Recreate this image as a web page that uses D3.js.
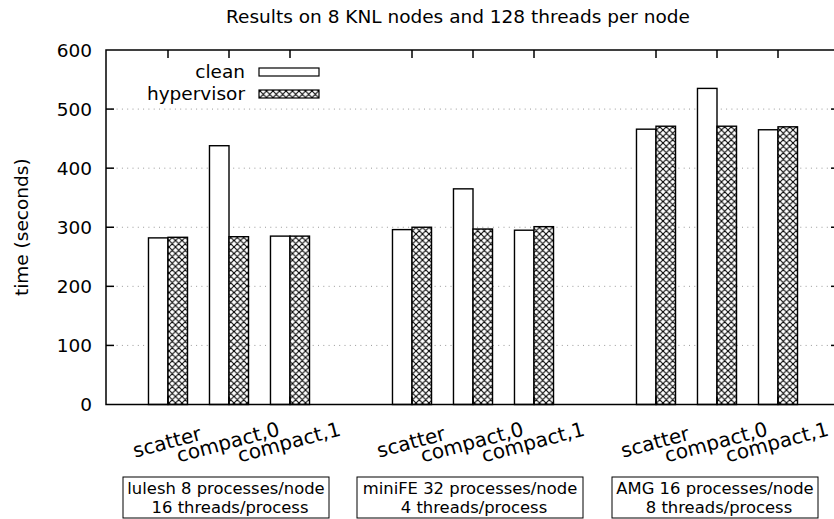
<!DOCTYPE html>
<html><head><meta charset="utf-8">
<script src="https://cdn.jsdelivr.net/npm/d3@7"></script>
<style>body{margin:0;background:#fff}svg{display:block}text{font-family:"DejaVu Sans",sans-serif;fill:#000}</style>
</head><body><div id="c"></div>
<script>
const title = "Results on 8 KNL nodes and 128 threads per node";
const yLabel = "time (seconds)";
const configs = ["scatter", "compact,0", "compact,1"];
const groups = ["lulesh", "miniFE", "AMG"];
const groupLine1 = ["lulesh 8 processes/node", "miniFE 32 processes/node", "AMG 16 processes/node"];
const groupLine2 = ["16 threads/process", "4 threads/process", "8 threads/process"];
const seriesNames = ["clean", "hypervisor"];
const clean = [[282, 438, 285], [296, 365, 295], [466, 535, 465]];
const hypervisor = [[283, 284, 285], [300, 297, 301], [471, 471, 470]];
const yTicks = [0, 100, 200, 300, 400, 500, 600];

(function () {
const W = 834, H = 519;
const svg = d3.select("#c").append("svg").attr("width", W).attr("height", H);
const defs = svg.append("defs");
const pat = defs.append("pattern").attr("id", "xhatch").attr("patternUnits", "userSpaceOnUse")
  .attr("width", 6.5).attr("height", 6.5);
pat.append("rect").attr("width", 6.5).attr("height", 6.5).attr("fill", "#fff");
pat.append("path").attr("d", "M0,0L6.5,6.5M0,6.5L6.5,0M-1,1L1,-1M5.5,7.5L7.5,5.5")
  .attr("stroke", "#000").attr("stroke-width", 1.1).attr("fill", "none");

const pLeft = 106, pTop = 50, pBottom = 404.5;
const x = d3.scaleLinear().domain([-1, 11]).range([107, 839]);
const y = d3.scaleLinear().domain([0, 600]).range([pBottom, pTop]);
const pos = (g, c) => g * 4 + c;
const bw = 0.32;

// grid
const grid = svg.append("g");
yTicks.filter(t => t > 0 && t < 600).forEach(t => {
  grid.append("line").attr("x1", pLeft).attr("x2", W).attr("y1", y(t)).attr("y2", y(t))
    .attr("stroke", "#999").attr("stroke-width", 1).attr("stroke-dasharray", "1,4.3");
});

// legend background (opaque)
svg.append("rect").attr("x", pLeft + 1).attr("y", 58).attr("width", 225).attr("height", 46).attr("fill", "#fff");

// bars
const bars = svg.append("g");
groups.forEach((gname, g) => {
  configs.forEach((cname, c) => {
    const p = pos(g, c);
    bars.append("rect").attr("x", x(p - bw)).attr("width", x(p) - x(p - bw))
      .attr("y", y(clean[g][c])).attr("height", y(0) - y(clean[g][c]))
      .attr("fill", "#fff").attr("stroke", "#000").attr("stroke-width", 1.4);
    bars.append("rect").attr("x", x(p)).attr("width", x(p + bw) - x(p))
      .attr("y", y(hypervisor[g][c])).attr("height", y(0) - y(hypervisor[g][c]))
      .attr("fill", "url(#xhatch)").attr("stroke", "#000").attr("stroke-width", 1.4);
  });
});

// axes/border
const ax = svg.append("g").attr("stroke", "#000").attr("stroke-width", 1.5).attr("fill", "none");
ax.append("path").attr("d", `M${W},${pTop}H${pLeft}V${pBottom}H${W}`);
ax.append("line").attr("x1", x(11)).attr("x2", x(11)).attr("y1", pTop).attr("y2", pBottom);
const tl = 8;
yTicks.forEach(t => {
  if (t > 0 && t < 600) {
    ax.append("line").attr("x1", pLeft).attr("x2", pLeft + tl).attr("y1", y(t)).attr("y2", y(t));
    ax.append("line").attr("x1", x(11)).attr("x2", x(11) - tl).attr("y1", y(t)).attr("y2", y(t));
  }
});
groups.forEach((gname, g) => configs.forEach((cname, c) => {
  const xp = x(pos(g, c));
  ax.append("line").attr("x1", xp).attr("x2", xp).attr("y1", pBottom).attr("y2", pBottom - tl);
  ax.append("line").attr("x1", xp).attr("x2", xp).attr("y1", pTop).attr("y2", pTop + tl);
}));

// y tick labels
yTicks.forEach(t => {
  svg.append("text").attr("x", 92).attr("y", y(t)).attr("dy", "0.36em").attr("text-anchor", "end")
    .attr("font-size", 18.5).text(t);
});
// y label
svg.append("text").attr("transform", `translate(28,${(pTop + pBottom) / 2}) rotate(-90)`)
  .attr("text-anchor", "middle").attr("font-size", 18.5).text(yLabel);
// title
svg.append("text").attr("x", 458).attr("y", 23).attr("text-anchor", "middle").attr("font-size", 18.5).text(title);

// x tick labels
groups.forEach((gname, g) => configs.forEach((cname, c) => {
  const xp = x(pos(g, c));
  svg.append("text").attr("transform", `translate(${xp - 1},442) rotate(-15)`)
    .attr("text-anchor", "middle").attr("dy", "0.35em").attr("font-size", 20).text(cname);
}));

// group boxes
const boxes = [[123, 329], [357, 583], [612, 818]];
groups.forEach((gname, g) => {
  const [bx0, bx1] = boxes[g];
  svg.append("rect").attr("x", bx0).attr("y", 477).attr("width", bx1 - bx0).attr("height", 41)
    .attr("fill", "none").attr("stroke", "#000").attr("stroke-width", 1);
  const cx = (bx0 + bx1) / 2;
  svg.append("text").attr("x", cx).attr("y", 494).attr("text-anchor", "middle").attr("font-size", 16.4).text(groupLine1[g]);
  svg.append("text").attr("x", cx + 4).attr("y", 513).attr("text-anchor", "middle").attr("font-size", 16.4).text(groupLine2[g]);
});

// legend
const lg = svg.append("g");
seriesNames.forEach((s, i) => {
  const cy = 72 + i * 22;
  lg.append("text").attr("x", 245).attr("y", cy).attr("dy", "0.35em").attr("text-anchor", "end")
    .attr("font-size", 18.5).text(s);
  lg.append("rect").attr("x", 259).attr("y", cy - 4).attr("width", 60).attr("height", 8)
    .attr("fill", i === 0 ? "#fff" : "url(#xhatch)").attr("stroke", "#000").attr("stroke-width", 1.2);
});
})();
</script></body></html>
